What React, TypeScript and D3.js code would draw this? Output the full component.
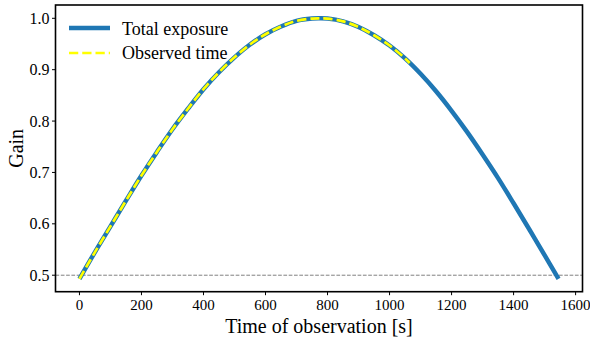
import React from "react";
import * as d3 from "d3";

const totalTime = [0, 50, 100, 150, 200, 250, 300, 350, 400, 450, 500, 550, 600, 650, 700, 750, 772, 800, 850, 900, 950, 1000, 1050, 1100, 1150, 1200, 1250, 1300, 1350, 1400, 1450, 1500, 1545];
const totalGain = [0.493, 0.545, 0.595, 0.645, 0.694, 0.740, 0.784, 0.824, 0.862, 0.895, 0.924, 0.949, 0.969, 0.984, 0.995, 0.9995, 1.0, 0.9995, 0.994, 0.983, 0.967, 0.947, 0.922, 0.892, 0.858, 0.820, 0.779, 0.735, 0.689, 0.640, 0.590, 0.539, 0.493];
const observedTime = [0, 50, 100, 150, 200, 250, 300, 350, 400, 450, 500, 550, 600, 650, 700, 750, 772, 800, 850, 900, 950, 1000, 1050, 1065];
const observedGain = [0.493, 0.545, 0.595, 0.645, 0.694, 0.740, 0.784, 0.824, 0.862, 0.895, 0.924, 0.949, 0.969, 0.984, 0.995, 0.9995, 1.0, 0.9995, 0.994, 0.983, 0.967, 0.947, 0.922, 0.913];
const xTicks = [0, 200, 400, 600, 800, 1000, 1200, 1400, 1600];
const yTicks = [0.5, 0.6, 0.7, 0.8, 0.9, 1.0];
const refLevel = 0.5;
const legendLabels = ["Total exposure", "Observed time"];

const FONT = "'Liberation Serif', serif";
const BLUE = "#1f77b4";
const YELLOW = "#ffff00";
const tstyle = { fontFamily: FONT };

export default function App() {
  const left = 55.5, right = 582.5, top = 5, bottom = 291.7;
  const x = d3.scaleLinear().domain([-77.25, 1622.25]).range([left, right]);
  const y = d3.scaleLinear().domain([0.4679, 1.0259]).range([bottom, top]);

  const line = d3
    .line<[number, number]>()
    .x((d) => x(d[0]))
    .y((d) => y(d[1]))
    .curve(d3.curveCatmullRom);

  const totalPts: [number, number][] = totalTime.map((t, i) => [t, totalGain[i]]);
  const obsPts: [number, number][] = observedTime.map((t, i) => [t, observedGain[i]]);

  return (
    <svg width={590} height={341} style={{ position: "absolute", left: 0, top: 0, background: "#fff" }}>
      <defs>
        <clipPath id="plotclip">
          <rect x={left} y={top} width={right - left} height={bottom - top} />
        </clipPath>
      </defs>
      <rect x={0} y={0} width={590} height={341} fill="#fff" />

      <g clipPath="url(#plotclip)">
        <line x1={left} x2={right} y1={y(refLevel)} y2={y(refLevel)} stroke="#808080" strokeWidth={1} strokeDasharray="3.7,1.6" />
        <path d={line(totalPts) || ""} fill="none" stroke={BLUE} strokeWidth={4.5} />
        <path d={line(obsPts) || ""} fill="none" stroke={YELLOW} strokeWidth={2.7} strokeDasharray="9.25,4" />
      </g>

      <rect x={left} y={top} width={right - left} height={bottom - top} fill="none" stroke="#000" strokeWidth={1.6} />

      {xTicks.map((t) => (
        <g key={"x" + t}>
          <line x1={x(t)} x2={x(t)} y1={bottom} y2={bottom + 3.5} stroke="#000" strokeWidth={1} />
          <text x={x(t)} y={309.5} textAnchor="middle" fontSize={15} fill="#000" style={tstyle}>
            {t}
          </text>
        </g>
      ))}

      {yTicks.map((t) => (
        <g key={"y" + t}>
          <line x1={left - 3.5} x2={left} y1={y(t)} y2={y(t)} stroke="#000" strokeWidth={1} />
          <text x={49.5} y={y(t)} dy="0.34em" textAnchor="end" fontSize={16} fill="#000" style={tstyle}>
            {t.toFixed(1)}
          </text>
        </g>
      ))}

      <text x={(left + right) / 2} y={333} textAnchor="middle" fontSize={20} fill="#000" style={tstyle}>
        Time of observation [s]
      </text>
      <text transform={`translate(22.5, ${(top + bottom) / 2}) rotate(-90)`} textAnchor="middle" fontSize={20} fill="#000" style={tstyle}>
        Gain
      </text>

      <line x1={69} x2={110} y1={28} y2={28} stroke={BLUE} strokeWidth={4.5} />
      <text x={122} y={28.5} dy="0.34em" fontSize={18} fill="#000" style={tstyle}>
        {legendLabels[0]}
      </text>
      <line x1={69} x2={110} y1={53} y2={53} stroke={YELLOW} strokeWidth={2.7} strokeDasharray="9.25,4" />
      <text x={122} y={53} dy="0.34em" fontSize={18} fill="#000" style={tstyle}>
        {legendLabels[1]}
      </text>
    </svg>
  );
}
